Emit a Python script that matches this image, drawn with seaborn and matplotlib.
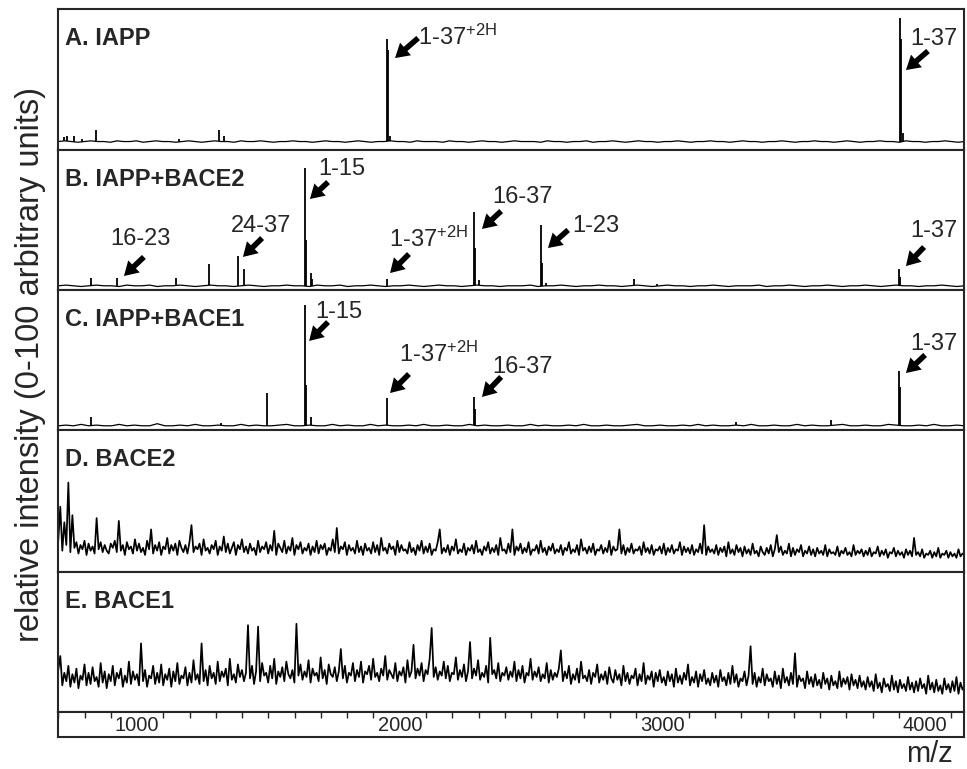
import numpy as np
import pandas as pd
import matplotlib
matplotlib.use("Agg")
import matplotlib.pyplot as plt
import seaborn as sns
from matplotlib.ticker import MultipleLocator, FixedLocator

sns.set_theme(style="white")
plt.rcParams['font.family'] = ['Liberation Sans', 'DejaVu Sans']
plt.rcParams['mathtext.fontset'] = 'custom'
plt.rcParams['mathtext.rm'] = 'Liberation Sans'
plt.rcParams['mathtext.it'] = 'Liberation Sans'
plt.rcParams['mathtext.bf'] = 'Liberation Sans:bold'

# ---------------- data ----------------
panel_labels = ["A. IAPP", "B. IAPP+BACE2", "C. IAPP+BACE1", "D. BACE2", "E. BACE1"]
x_ticks = [1000, 2000, 3000, 4000]
x_tick_labels = ["1000", "2000", "3000", "4000"]
mz_range = (700, 4150)          # m/z span of the recorded traces

# baseline traces (relative intensity, 0-100), sampled evenly over mz_range
trace_A = [6, 6.5, 6, 5.5, 6, 6.5, 6, 6, 5.5, 6.5, 6, 6, 6.5, 5.5, 6, 6.5, 6, 6, 5.5, 6,
           6.5, 6, 5.5, 6, 6.5, 6, 6, 5.5, 6.5, 6, 6, 6.5, 6, 5.5, 6, 6, 6.5, 6, 6, 5.5,
           6, 6.5, 6, 6, 5.5, 6, 6.5, 6, 5.5, 6, 6, 6.5, 6, 6, 5.5, 6.5, 6, 6, 6, 5.5,
           6.5, 6, 6, 5.5, 6, 6.5, 6, 6, 5.5, 6, 6.5, 6, 6, 6, 5.5, 6.5, 6, 6, 5.5, 6,
           6, 6.5, 5.5, 6, 6, 6.5, 6, 5.5, 6, 6.5, 6, 6, 5.5, 6, 6, 6.5, 6, 5.5, 6, 6,
           6.5, 6, 6, 5.5, 6, 6.5, 6, 6, 5.5, 6, 6, 6.5, 6, 5.5, 6, 6, 6.5, 6, 6, 5.5,
           6, 6.5, 6, 5.5, 6, 6, 6.5, 6, 6, 5.5, 6.5, 6, 6, 5.5, 6, 6, 6.5, 6, 5.5, 6]
trace_B = [3, 3.5, 3, 2.5, 3, 3.5, 3, 3, 2.5, 3.5, 3, 3, 3.5, 2.5, 3, 3, 3.5, 3, 2.5, 3,
           3.5, 3, 3, 2.5, 3, 3.5, 3, 2.5, 3, 3, 3.5, 3, 3, 2.5, 3.5, 3, 3, 3.5, 2.5, 3,
           3, 3.5, 3, 2.5, 3, 3, 3.5, 3, 2.5, 3, 3.5, 3, 3, 2.5, 3, 3.5, 3, 3, 2.5, 3,
           3, 3, 3.5, 2.5, 3, 3, 3.5, 3, 2.5, 3, 3, 3.5, 3, 3, 2.5, 3, 3.5, 3, 2.5, 3,
           3.5, 3, 3, 2.5, 3, 3, 3.5, 3, 2.5, 3, 3, 3, 3.5, 2.5, 3, 3, 3.5, 3, 2.5, 3,
           3, 3.5, 3, 2.5, 3, 3, 3.5, 3, 2.5, 3, 3.5, 3, 3, 2.5, 3, 3, 3.5, 3, 2.5, 3]
trace_C = [3, 3.5, 3, 4, 3, 3.5, 3, 3, 4, 3, 3.5, 3, 3, 4.5, 3, 3, 3.5, 3, 4, 3,
           3, 3.5, 3, 3, 4, 3, 3.5, 3, 3, 3.5, 4, 3, 3, 3.5, 3, 3, 4, 3, 3.5, 3,
           3, 4, 3, 3.5, 3, 3, 3.5, 3, 4, 3, 3, 3.5, 3, 3, 4, 3, 3.5, 3, 3, 3.5,
           3, 3, 4, 3, 3.5, 3, 3, 3.5, 3, 4, 3, 3, 3.5, 3, 3, 3.5, 4, 3, 3, 3.5,
           3, 3, 3.5, 3, 4, 3, 3.5, 3, 3, 3.5, 3, 4, 3, 3, 3.5, 3, 3, 4, 3, 3.5,
           3, 3, 3.5, 4, 3, 3, 3.5, 3, 3, 4, 3.5, 3, 3, 3.5, 3, 4, 3, 3, 3.5, 3]
trace_D = [22, 46, 15, 35, 19, 63, 14, 40, 17, 21, 13, 19, 16, 22, 12, 20, 15, 18, 13, 38, 16, 21, 14, 19, 15,
           13, 20, 17, 22, 14, 36, 15, 19, 12, 21, 16, 18, 13, 23, 15, 20, 14, 17, 12, 22, 16, 30, 13, 19, 15,
           21, 12, 18, 16, 24, 13, 19, 15, 20, 12, 22, 17, 14, 19, 13, 21, 33, 14, 18, 16, 20, 12, 23, 15, 17,
           13, 19, 16, 22, 12, 18, 15, 25, 14, 20, 13, 17, 21, 12, 19, 16, 23, 14, 18, 13, 20, 15, 17, 12, 22,
           14, 18, 16, 21, 13, 19, 15, 29, 12, 20, 17, 14, 22, 13, 18, 15, 24, 12, 19, 16, 21, 13, 17, 15, 20,
           12, 18, 14, 22, 13, 19, 16, 20, 12, 17, 15, 23, 14, 31, 13, 18, 16, 21, 12, 19, 15, 17, 13, 22, 14,
           18, 12, 20, 15, 17, 13, 21, 14, 19, 12, 24, 15, 17, 13, 20, 16, 18, 12, 22, 14, 19, 15, 16, 13, 21,
           14, 17, 12, 19, 15, 22, 13, 18, 14, 20, 12, 16, 15, 21, 30, 13, 17, 14, 19, 12, 18, 15, 23, 13, 16,
           14, 20, 12, 17, 15, 19, 13, 22, 14, 16, 12, 18, 15, 21, 13, 17, 14, 19, 12, 24, 15, 16, 13, 20, 14,
           30, 12, 18, 15, 20, 13, 17, 14, 21, 12, 16, 15, 19, 13, 22, 14, 17, 12, 18, 15, 20, 13, 16, 14, 19,
           12, 17, 15, 21, 13, 16, 14, 19, 12, 23, 15, 17, 13, 18, 14, 20, 12, 16, 15, 19, 13, 17, 14, 22, 12,
           18, 15, 16, 30, 13, 19, 12, 17, 14, 20, 13, 16, 15, 18, 12, 21, 14, 17, 13, 19, 12, 16, 15, 18, 13,
           20, 12, 17, 14, 19, 13, 16, 15, 21, 12, 18, 14, 17, 13, 19, 12, 16, 14, 20, 13, 33, 12, 18, 14, 16,
           13, 19, 12, 17, 14, 18, 11, 21, 13, 16, 12, 19, 14, 17, 11, 18, 13, 16, 12, 20, 13, 15, 11, 18, 14,
           12, 17, 13, 19, 11, 16, 26, 14, 18, 12, 15, 13, 20, 11, 17, 12, 16, 14, 19, 11, 15, 13, 18, 12, 16,
           11, 17, 13, 15, 12, 19, 11, 16, 13, 14, 12, 18, 11, 15, 13, 17, 12, 14, 11, 19, 12, 15, 13, 16, 11,
           15, 12, 17, 11, 14, 13, 18, 11, 15, 12, 16, 10, 14, 13, 17, 11, 15, 12, 14, 10, 16, 12, 15, 11, 24,
           12, 14, 11, 16, 10, 13, 12, 15, 10, 14, 11, 17, 10, 13, 12, 15, 10, 14, 11, 13, 10, 16, 11, 13, 12]
trace_E = [30, 40, 19, 28, 22, 33, 18, 27, 21, 31, 17, 26, 23, 34, 19, 28, 20, 32, 22, 25, 18, 35, 21, 29, 17,
           27, 22, 33, 19, 28, 24, 31, 18, 26, 21, 36, 20, 29, 23, 27, 19, 49, 22, 30, 18, 26, 24, 33, 20, 28,
           21, 34, 19, 27, 23, 31, 18, 29, 22, 35, 20, 26, 24, 32, 19, 28, 21, 37, 23, 27, 20, 49, 22, 30, 19,
           33, 24, 28, 20, 36, 22, 29, 25, 31, 19, 38, 23, 27, 21, 34, 25, 30, 22, 28, 62, 24, 33, 20, 29, 61,
           22, 35, 26, 28, 21, 33, 24, 38, 20, 29, 25, 32, 22, 36, 27, 24, 30, 21, 63, 26, 34, 23, 29, 25, 37,
           21, 31, 26, 28, 22, 39, 24, 30, 20, 34, 27, 25, 32, 22, 29, 45, 24, 33, 21, 28, 26, 35, 22, 30, 25,
           36, 21, 29, 27, 33, 23, 38, 25, 28, 22, 31, 26, 40, 23, 30, 27, 24, 35, 22, 29, 26, 32, 21, 37, 25,
           29, 48, 24, 31, 26, 35, 22, 30, 27, 38, 60, 25, 32, 23, 29, 26, 36, 24, 33, 22, 28, 27, 39, 23, 30,
           25, 34, 22, 29, 50, 24, 31, 26, 37, 23, 28, 25, 33, 21, 53, 27, 30, 24, 35, 22, 28, 26, 32, 23, 29,
           25, 36, 22, 30, 24, 33, 21, 28, 26, 38, 23, 29, 25, 32, 22, 27, 24, 35, 21, 30, 23, 28, 25, 31, 44,
           22, 29, 24, 33, 20, 27, 23, 31, 21, 36, 24, 26, 22, 30, 20, 28, 25, 34, 21, 27, 23, 29, 20, 32, 24,
           21, 30, 23, 27, 19, 33, 22, 28, 20, 26, 24, 31, 19, 27, 22, 35, 20, 26, 23, 29, 18, 28, 22, 30, 21,
           25, 19, 29, 22, 27, 18, 31, 21, 26, 20, 28, 23, 34, 19, 25, 21, 29, 18, 27, 22, 30, 20, 24, 19, 28,
           21, 26, 18, 30, 22, 25, 19, 28, 20, 33, 21, 27, 18, 24, 22, 29, 19, 26, 47, 20, 28, 18, 25, 21, 31,
           19, 27, 22, 24, 18, 29, 20, 26, 17, 31, 21, 25, 19, 28, 20, 42, 18, 26, 22, 24, 17, 29, 20, 25, 18,
           27, 19, 23, 17, 28, 20, 24, 16, 26, 19, 22, 17, 29, 18, 24, 20, 25, 16, 27, 19, 23, 17, 26, 18, 22,
           16, 25, 18, 22, 15, 27, 17, 21, 14, 24, 18, 20, 15, 26, 16, 22, 14, 23, 17, 20, 15, 25, 16, 21, 14,
           22, 15, 24, 17, 20, 13, 26, 16, 21, 14, 23, 15, 19, 13, 24, 16, 20, 14, 22, 15, 25, 13, 21, 16, 19]

# resolved peaks (m/z, relative intensity)
peaks_A_mz = [720, 735, 760, 790, 845, 1160, 1311, 1330, 1952, 1955, 1962, 3904, 3909, 3914]
peaks_A_int = [9, 10, 10, 8, 14, 8, 14, 10, 78.7, 71, 10, 93.6, 78.7, 12]
peaks_B_mz = [824, 923, 1147, 1275, 1384, 1408, 1641, 1644, 1662, 1667, 1953,
              2282, 2285, 2300, 2538, 2541, 2555, 2893, 2980, 3900, 3904]
peaks_B_int = [8.6, 8.6, 8.6, 18.6, 24.3, 15, 87, 36, 12, 8, 7.9,
               56, 30, 7, 46.4, 19, 5, 7.9, 4.5, 15, 9]
peaks_C_mz = [824, 1320, 1496, 1639, 1642, 1662, 1953, 2282, 2285, 3280, 3640, 3902, 3905]
peaks_C_int = [9.5, 5, 26.2, 89.3, 32, 9.5, 22.6, 23.8, 15, 6, 7, 42.4, 31]

traces = [trace_A, trace_B, trace_C, trace_D, trace_E]
peaks = [(peaks_A_mz, peaks_A_int), (peaks_B_mz, peaks_B_int),
         (peaks_C_mz, peaks_C_int), ([], []), ([], [])]

# fragment labels: panel, text, text anchor (m/z, y), arrow tail, arrow tip
frag_labels = [
    (0, "1-37$^{+2H}$", (2070, 74.5), (2070, 79.4), (1982, 65.2)),
    (0, "1-37", (3943, 74.5), (4011, 70.2), (3927, 56.7)),
    (1, "1-15", (1689, 82.1), (1727, 77.1), (1658, 65.0)),
    (1, "24-37", (1358, 41.4), (1476, 37.1), (1403, 23.6)),
    (1, "16-23", (897, 32.1), (1026, 23.6), (950, 10.0)),
    (1, "1-37$^{+2H}$", (1959, 30.7), (2035, 25.7), (1963, 12.1)),
    (1, "16-37", (2351, 62.1), (2386, 56.4), (2313, 43.6)),
    (1, "1-23", (2656, 41.4), (2641, 42.9), (2564, 30.0)),
    (1, "1-37", (3943, 37.9), (3996, 30.7), (3927, 17.1)),
    (2, "1-15", (1677, 80.0), (1727, 77.1), (1655, 63.6)),
    (2, "1-37$^{+2H}$", (1997, 48.6), (2035, 40.0), (1963, 26.4)),
    (2, "16-37", (2351, 40.7), (2386, 37.9), (2313, 23.6)),
    (2, "1-37", (3943, 57.1), (4000, 53.6), (3927, 40.7)),
]

# ---------------- layout ----------------
W, H = 967, 769
fig = plt.figure(figsize=(W / 100, H / 100), dpi=100)
left_px, right_px = 58, 964
bands = [(9, 150), (150, 290), (290, 430), (430, 572), (572, 712)]
line_widths = [0.9, 0.9, 0.9, 1.25, 1.25]
xlim = (699, 4148)
frame_col = "#262626"

axes = []
for i, (t, b) in enumerate(bands):
    ax = fig.add_axes([left_px / W, 1 - b / H, (right_px - left_px) / W, (b - t) / H])
    tr = traces[i]
    df = pd.DataFrame({"mz": np.linspace(mz_range[0], mz_range[1], len(tr)),
                       "intensity": tr})
    sns.lineplot(data=df, x="mz", y="intensity", ax=ax, color="black",
                 lw=line_widths[i], estimator=None, sort=False)
    pm, pi = peaks[i]
    if len(pm):
        base = np.interp(pm, df["mz"], df["intensity"])
        ax.vlines(pm, base, pi, color="black", lw=1.3)
    ax.set_xlim(*xlim)
    ax.set_ylim(0, 100)
    ax.set_xticks([])
    ax.set_yticks([])
    ax.set_xlabel("")
    ax.set_ylabel("")
    for s in ax.spines.values():
        s.set_color(frame_col)
        s.set_linewidth(1.5)
    ax.annotate(panel_labels[i], xy=(0, 1), xycoords="axes fraction",
                xytext=(7, -36), textcoords="offset pixels",
                ha="left", va="baseline", fontsize=17, fontweight="bold")
    axes.append(ax)

for pidx, txt, tpos, tail, tip in frag_labels:
    ax = axes[pidx]
    ax.text(tpos[0], tpos[1], txt, fontsize=17, ha="left", va="baseline")
    ax.annotate("", xy=tip, xytext=tail,
                arrowprops=dict(arrowstyle="simple,head_length=0.5,head_width=0.6,tail_width=0.2",
                                fc="black", ec="black", lw=0, shrinkA=0, shrinkB=0,
                                mutation_scale=20))

# x-axis strip with tick labels inside the box
axs = fig.add_axes([left_px / W, 1 - 737 / H, (right_px - left_px) / W, 25 / H])
axs.set_xlim(*xlim)
axs.set_ylim(0, 1)
axs.set_yticks([])
axs.xaxis.set_major_locator(FixedLocator(x_ticks))
axs.set_xticklabels(x_tick_labels)
axs.xaxis.set_minor_locator(MultipleLocator(100))
axs.tick_params(axis="x", which="major", top=False, bottom=False, labelbottom=True,
                labelsize=14.5, pad=-15.3, length=0)
axs.tick_params(axis="x", which="minor", top=True, bottom=False, direction="in",
                length=4, width=1, color=frame_col)
for s in axs.spines.values():
    s.set_color(frame_col)
    s.set_linewidth(1.5)

fig.text(31 / W, 1 - 365 / H, "relative intensity (0-100 arbitrary units)",
         rotation=90, ha="center", va="center", fontsize=23.5)
fig.text(953 / W, 1 - 762 / H, "m/z", ha="right", va="baseline", fontsize=21)

fig.savefig("out.png", dpi=100)
